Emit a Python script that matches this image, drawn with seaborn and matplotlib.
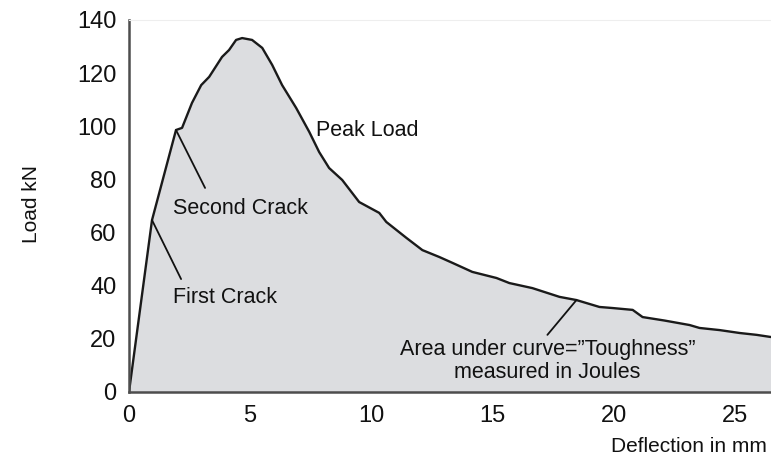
import numpy as np
import pandas as pd
import matplotlib
matplotlib.use('Agg')
import matplotlib.pyplot as plt
import seaborn as sns

# load-deflection curve
deflection = [0.0, 0.95, 1.94, 2.19, 2.60, 2.98, 3.31, 3.84, 4.13, 4.42, 4.67, 5.08, 5.50,
              5.91, 6.32, 6.90, 7.44, 7.85, 8.26, 8.80, 9.50, 10.33, 10.62, 11.45, 12.11,
              12.81, 13.35, 14.17, 15.17, 15.70, 16.65, 17.77, 18.47, 19.42, 19.96, 20.79,
              21.20, 22.10, 23.14, 23.55, 24.38, 25.21, 25.91, 26.49]
load = [0.0, 64.7, 98.6, 99.4, 108.8, 115.5, 118.6, 126.1, 128.7, 132.5, 133.2, 132.5, 129.5,
        123.1, 115.5, 106.9, 97.9, 90.3, 84.3, 79.8, 71.5, 67.4, 64.0, 58.0, 53.4,
        50.8, 48.6, 45.2, 42.9, 41.0, 39.1, 35.8, 34.6, 32.0, 31.6, 30.9,
        28.2, 26.9, 25.2, 24.1, 23.3, 22.2, 21.5, 20.7]

y_ticks = [0, 20, 40, 60, 80, 100, 120, 140]
x_ticks = [0, 5, 10, 15, 20, 25]

# annotations: label, text position, pointer start (on curve), pointer end
notes = ['First Crack', 'Second Crack', 'Peak Load', 'Area under curve=\u201dToughness\u201d\nmeasured in Joules']
note_x = [1.82, 1.82, 7.73, 17.27]
note_y = [35.4, 68.9, 98.6, 11.6]
ptr_from = [(0.95, 64.7), (1.94, 98.6), None, (18.47, 34.6)]
ptr_to = [(2.15, 42.5), (3.14, 76.8), None, (17.27, 21.5)]

df = pd.DataFrame({'Deflection': deflection, 'Load': load})

sns.set_theme(style='white')
plt.rcParams['font.family'] = ['Liberation Sans', 'DejaVu Sans']

fig = plt.figure(figsize=(7.71, 4.59), dpi=100)
ax = fig.add_axes([129 / 771, 1 - 392 / 459, 1 - 129 / 771, (392 - 20) / 459])

ax.fill_between(df['Deflection'], 0, df['Load'], color='#dcdde0', lw=0)
sns.lineplot(data=df, x='Deflection', y='Load', ax=ax, color='#1a1a1a', lw=1.7)

ax.set_xlim(0, 26.5)
ax.set_ylim(0, 140)
ax.set_xticks(x_ticks)
ax.set_yticks(y_ticks)
ax.tick_params(axis='both', length=0, labelsize=17, colors='#111111')
ax.tick_params(axis='y', pad=9)
ax.tick_params(axis='x', pad=9)

for s in ['left', 'bottom']:
    ax.spines[s].set_color('#4d4d4d')
    ax.spines[s].set_linewidth(1.8)
ax.spines['top'].set_color('#eeeeee')
ax.spines['top'].set_linewidth(0.8)
ax.spines['right'].set_visible(False)

ax.set_ylabel('Load kN', fontsize=15, color='#111111')
ax.yaxis.set_label_coords(-0.137, 0.505)
ax.set_xlabel('Deflection in mm', fontsize=15, color='#111111', loc='right')
ax.xaxis.set_label_coords(0.994, -0.121)

for i, txt in enumerate(notes):
    if ptr_from[i] is not None:
        ax.annotate('', xy=ptr_from[i], xytext=ptr_to[i],
                    arrowprops=dict(arrowstyle='-', color='#111111', lw=1.3,
                                    shrinkA=0, shrinkB=0))
    ha = 'center' if '\n' in txt else 'left'
    ax.text(note_x[i], note_y[i], txt, ha=ha, va='center', fontsize=15.5,
            color='#111111', linespacing=1.1)

fig.savefig('out.png', dpi=100)
